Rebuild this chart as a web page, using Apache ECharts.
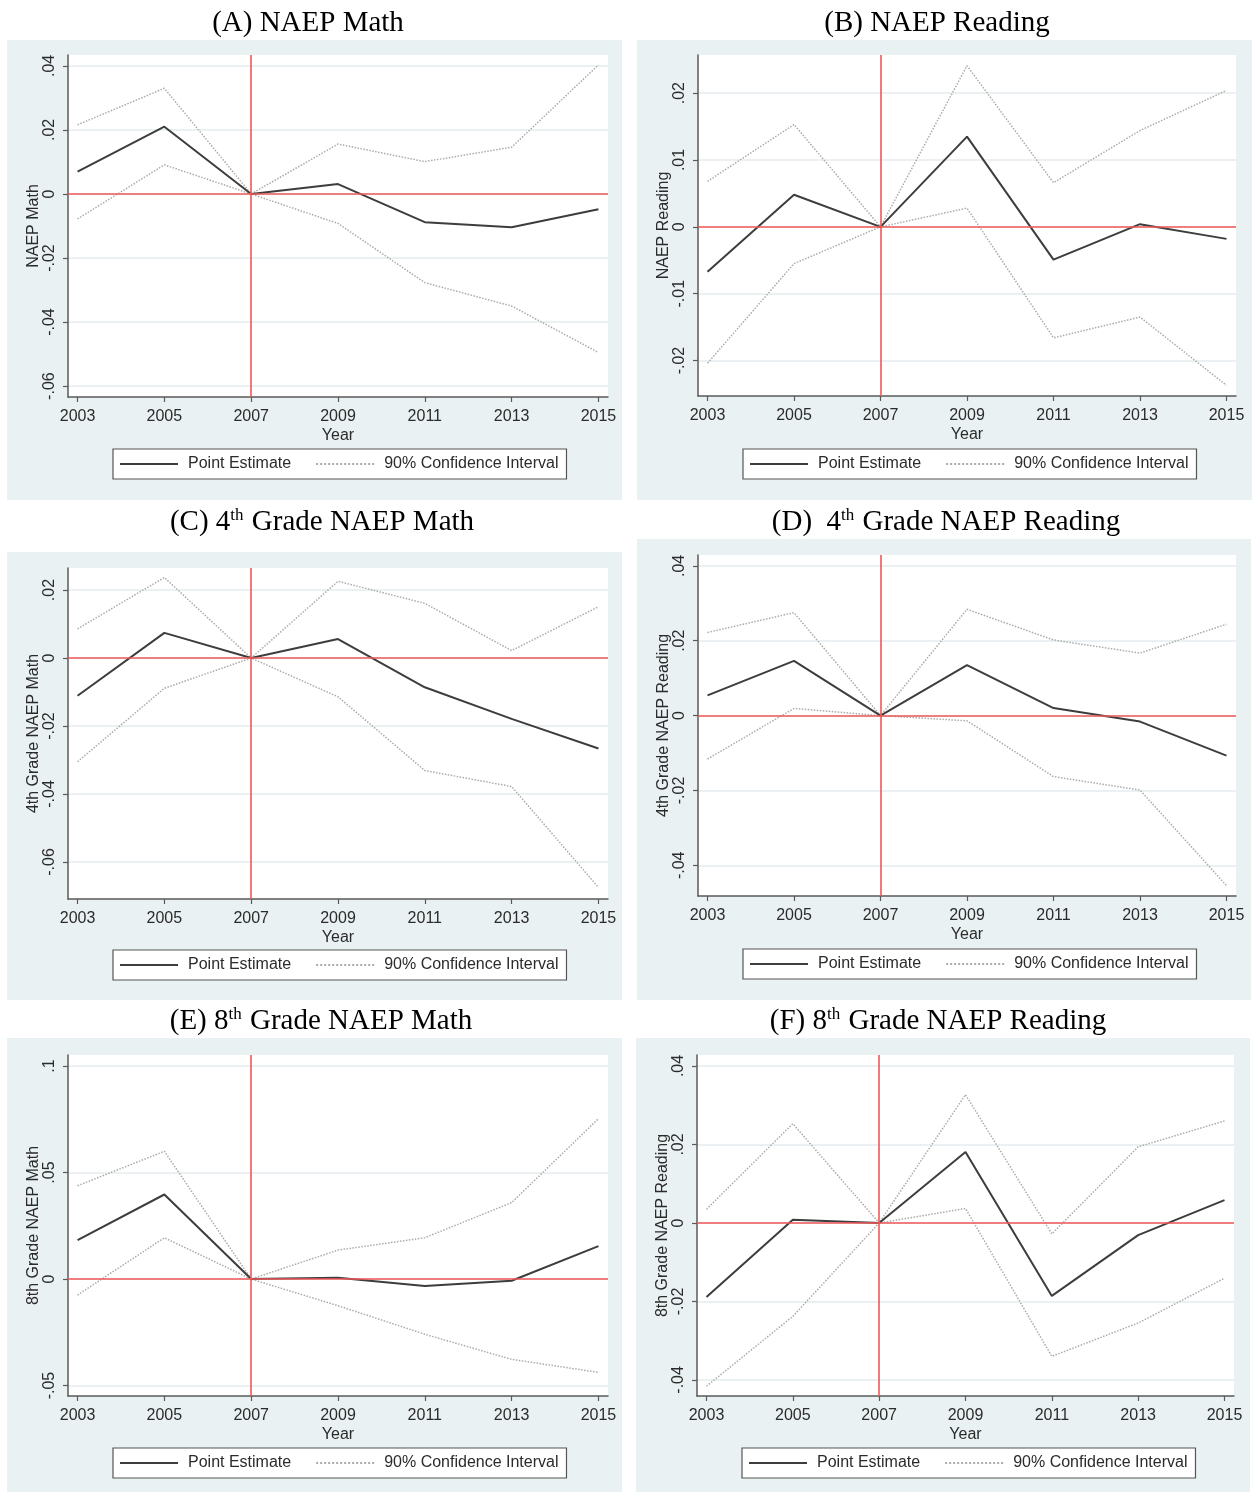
<!DOCTYPE html>
<html>
<head>
<meta charset="utf-8">
<script src="https://cdn.jsdelivr.net/npm/echarts@6/dist/echarts.min.js"></script>
<style>
html,body{margin:0;padding:0;background:#fff;}
#chart{width:1252px;height:1492px;}
</style>
</head>
<body>
<div id="chart"></div>
<script>
// ---------- DATA ----------
var years = [2003, 2005, 2007, 2009, 2011, 2013, 2015];
var xTicks = [2003, 2005, 2007, 2009, 2011, 2013, 2015];
var treatYear = 2007;

var titlesText = [
  '(A) NAEP Math',
  '(B) NAEP Reading',
  '(C) 4{sup|th} Grade NAEP Math',
  '(D)  4{sup|th} Grade NAEP Reading',
  '(E) 8{sup|th} Grade NAEP Math',
  '(F) 8{sup|th} Grade NAEP Reading'
];
var yNames = ['NAEP Math', 'NAEP Reading', '4th Grade NAEP Math', '4th Grade NAEP Reading', '8th Grade NAEP Math', '8th Grade NAEP Reading'];

var peA = [0.0070, 0.0210, 0, 0.0031, -0.0088, -0.0104, -0.0048];
var hiA = [0.0216, 0.0330, 0, 0.0156, 0.0101, 0.0146, 0.0403];
var loA = [-0.0078, 0.0091, 0, -0.0092, -0.0277, -0.0350, -0.0495];

var peB = [-0.0067, 0.0048, 0, 0.0135, -0.0049, 0.0004, -0.0018];
var hiB = [0.0068, 0.0153, 0, 0.0241, 0.0066, 0.0144, 0.0204];
var loB = [-0.0204, -0.0055, 0, 0.0028, -0.0166, -0.0135, -0.0237];

var peC = [-0.0111, 0.0074, 0, 0.0056, -0.0086, -0.0179, -0.0266];
var hiC = [0.0086, 0.0237, 0, 0.0226, 0.0161, 0.0022, 0.0151];
var loC = [-0.0305, -0.0089, 0, -0.0114, -0.0331, -0.0378, -0.0675];

var peD = [0.0054, 0.0146, 0, 0.0135, 0.0020, -0.0016, -0.0107];
var hiD = [0.0222, 0.0275, 0, 0.0284, 0.0202, 0.0167, 0.0244];
var loD = [-0.0116, 0.0019, 0, -0.0014, -0.0163, -0.0199, -0.0454];

var peE = [0.0183, 0.0397, 0, 0.0006, -0.0033, -0.0008, 0.0155];
var hiE = [0.0438, 0.0600, 0, 0.0136, 0.0194, 0.0359, 0.0753];
var loE = [-0.0075, 0.0194, 0, -0.0125, -0.0259, -0.0377, -0.0438];

var peF = [-0.0189, 0.0008, 0, 0.0181, -0.0186, -0.0031, 0.0058];
var hiF = [0.0035, 0.0253, 0, 0.0327, -0.0028, 0.0194, 0.0260];
var loF = [-0.0416, -0.0238, 0, 0.0037, -0.0340, -0.0255, -0.0141];

var yTicksA = [-0.06, -0.04, -0.02, 0, 0.02, 0.04];
var yTicksB = [-0.02, -0.01, 0, 0.01, 0.02];
var yTicksC = [-0.06, -0.04, -0.02, 0, 0.02];
var yTicksD = [-0.04, -0.02, 0, 0.02, 0.04];
var yTicksE = [-0.05, 0, 0.05, 0.1];
var yTicksF = [-0.04, -0.02, 0, 0.02, 0.04];

var legendNames = ['Point Estimate', '90% Confidence Interval'];

// ---------- LAYOUT ----------
var layout = [
  {bg:[7,40,615,460],   title:[308,23],  grid:[68,55,540,342],  ymin:-0.0634, ymax:0.0434, legend:[113,449]},
  {bg:[637,40,615,460], title:[937,23],  grid:[698,55,538,341], ymin:-0.0253, ymax:0.0257, legend:[743,449]},
  {bg:[7,552,615,448],  title:[322,522], grid:[68,568,540,331], ymin:-0.0709, ymax:0.0265, legend:[113,950]},
  {bg:[637,539,614,461],title:[946,522], grid:[698,555,538,341],ymin:-0.0482, ymax:0.0429, legend:[743,949]},
  {bg:[7,1038,615,454], title:[321,1021],grid:[68,1055,540,341],ymin:-0.0549, ymax:0.1052, legend:[113,1448]},
  {bg:[636,1038,614,454],title:[938,1021],grid:[697,1055,537,341],ymin:-0.0441,ymax:0.0428, legend:[742,1448]}
];
var pe = [peA, peB, peC, peD, peE, peF];
var hi = [hiA, hiB, hiC, hiD, hiE, hiF];
var lo = [loA, loB, loC, loD, loE, loF];
var yTicks = [yTicksA, yTicksB, yTicksC, yTicksD, yTicksE, yTicksF];

function zip(xs, ys) { return xs.map(function (x, i) { return [x, ys[i]]; }); }
function fmt(v) {
  var s = String(+(+v).toFixed(4));
  return s.replace(/^(-?)0\./, '$1.');
}

var SANS = 'Liberation Sans, Arial, sans-serif';
var SERIF = 'Liberation Serif, Times New Roman, serif';
var axisCol = '#5a5a5a';
var txtCol = '#2b2b2b';
var redCol = '#f05858';

var grids = [], xAxes = [], yAxes = [], series = [], legends = [], graphics = [];

layout.forEach(function (L, i) {
  graphics.push({type:'rect', z:-10, silent:true,
    shape:{x:L.bg[0], y:L.bg[1], width:L.bg[2], height:L.bg[3]},
    style:{fill:'#e9f1f3'}});
  graphics.push({type:'text', silent:true, x:L.title[0], y:L.title[1],
    style:{text:titlesText[i], fontSize:29, fontFamily:SERIF, fill:'#000',
      align:'center', verticalAlign:'middle',
      rich:{sup:{fontSize:17, fontFamily:SERIF, fill:'#000', verticalAlign:'top', padding:[0,1,12,0]}}}});

  grids.push({left:L.grid[0], top:L.grid[1], width:L.grid[2], height:L.grid[3],
    show:true, backgroundColor:'#ffffff', borderWidth:0, containLabel:false});

  xAxes.push({type:'value', gridIndex:i, min:2002.78, max:2015.22,
    name:'Year', nameLocation:'middle', nameGap:31,
    nameTextStyle:{fontSize:16, color:txtCol, fontFamily:SANS},
    axisLine:{show:true, onZero:false, lineStyle:{color:axisCol, width:1.5}},
    axisTick:{show:true, length:5, inside:false, customValues:xTicks, lineStyle:{color:axisCol, width:1.2}},
    axisLabel:{show:true, margin:12, fontSize:16, color:txtCol, fontFamily:SANS, customValues:xTicks,
      formatter:function(v){return String(v);}},
    splitLine:{show:false}});

  yAxes.push({type:'value', gridIndex:i, min:L.ymin, max:L.ymax,
    name:yNames[i], nameLocation:'middle', nameGap:24,
    nameTextStyle:{fontSize:16, color:txtCol, fontFamily:SANS},
    axisLine:{show:true, onZero:false, lineStyle:{color:axisCol, width:1.5}},
    axisTick:{show:true, length:5, inside:false, customValues:yTicks[i], lineStyle:{color:axisCol, width:1.2}},
    axisLabel:{show:true, margin:10, rotate:90, fontSize:16, color:txtCol, fontFamily:SANS, customValues:yTicks[i],
      formatter:fmt},
    splitLine:{show:true, lineStyle:{color:'#e4ecee', width:1.5}}});

  // reference lines (zero and treatment year) carried by their own series
  series.push({name:'ref', type:'line', xAxisIndex:i, yAxisIndex:i,
    data:[], symbol:'none', z:3, silent:true,
    markLine:{silent:true, symbol:['none','none'], label:{show:false},
      emphasis:{disabled:true},
      lineStyle:{color:redCol, type:'solid', width:1.6, opacity:1},
      data:[[{coord:[2002.78, 0]}, {coord:[2015.22, 0]}], [{coord:[treatYear, L.ymin]}, {coord:[treatYear, L.ymax]}]]}});

  series.push({name:legendNames[1], type:'line', xAxisIndex:i, yAxisIndex:i,
    data:zip(years, hi[i]), symbol:'none', z:2,
    itemStyle:{color:'#ababab', opacity:0},
    lineStyle:{color:'#ababab', type:'dotted', width:1.5}});
  series.push({name:legendNames[1], type:'line', xAxisIndex:i, yAxisIndex:i,
    data:zip(years, lo[i]), symbol:'none', z:2,
    itemStyle:{color:'#ababab', opacity:0},
    lineStyle:{color:'#ababab', type:'dotted', width:1.5}});
  series.push({name:legendNames[0], type:'line', xAxisIndex:i, yAxisIndex:i,
    data:zip(years, pe[i]), symbol:'none', z:4,
    itemStyle:{color:'#3d3d3d', opacity:0},
    lineStyle:{color:'#3d3d3d', width:2}});

  legends.push({left:L.legend[0], top:L.legend[1], orient:'horizontal',
    data:legendNames, selectedMode:false,
    itemWidth:58, itemHeight:12, itemGap:24,
    itemStyle:{opacity:0, borderWidth:0},
    backgroundColor:'#ffffff', borderColor:'#555555', borderWidth:1.2, borderRadius:0,
    padding:[7,8,7,6],
    textStyle:{fontSize:16, color:txtCol, fontFamily:SANS, padding:[0,0,0,5]}});
});

var chart = echarts.init(document.getElementById('chart'), null, {renderer:'canvas'});
chart.setOption({
  animation:false,
  backgroundColor:'#ffffff',
  grid:grids, xAxis:xAxes, yAxis:yAxes, series:series, legend:legends,
  graphic:{elements:graphics}
});
</script>
</body>
</html>
